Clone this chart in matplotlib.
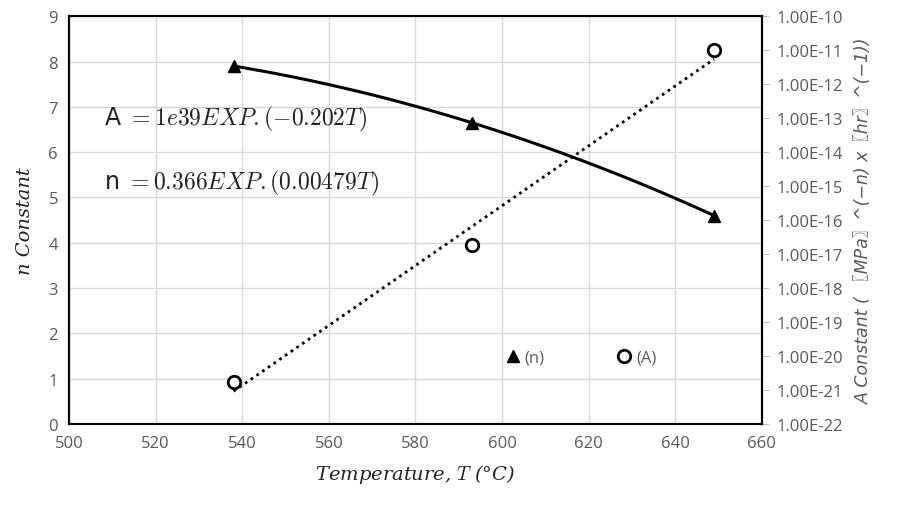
import numpy as np
import matplotlib.pyplot as plt
import matplotlib.ticker as mticker

# data
temp = [538, 593, 649]
n_const = [7.9, 6.65, 4.6]
a_const = [1.7e-21, 1.9e-17, 1.0e-11]

x_ticks = [500, 520, 540, 560, 580, 600, 620, 640, 660]
n_ticks = list(range(0, 10))
a_exps = list(range(-22, -9))

plt.rcParams['mathtext.fontset'] = 'cm'
grey = '#595959'
tick_font = 'Open Sans'

fig = plt.figure(figsize=(9.09, 5.06), dpi=100)
ax = fig.add_axes([0.076, 0.160, 0.762, 0.806])
ax2 = ax.twinx()

# n trend (smooth fit through the points)
tt = np.linspace(temp[0], temp[-1], 100)
pn = np.polyfit(temp, n_const, 2)
ax.plot(tt, np.polyval(pn, tt), color='black', lw=2.2, zorder=3)
ax.plot(temp, n_const, ls='none', marker='^', ms=8, color='black', zorder=4)

# A trend (exponential fit -> straight on log axis)
pa = np.polyfit(temp, np.log10(a_const), 1)
ax2.plot(tt, 10 ** np.polyval(pa, tt), color='black', lw=2, ls=(0, (1, 1.5)), zorder=3)
ax2.plot(temp, a_const, ls='none', marker='o', ms=9, mfc='white', mec='black', mew=2, zorder=4)

ax.set_xlim(500, 660)
ax.set_ylim(0, 9)
ax.set_xticks(x_ticks)
ax.set_yticks(n_ticks)
ax.grid(True, color='#d9d9d9', lw=1)
ax.set_axisbelow(True)
ax.tick_params(length=0, colors=grey, labelsize=12, pad=8)
for lab in ax.get_xticklabels() + ax.get_yticklabels():
    lab.set_fontfamily(tick_font)

ax2.set_yscale('log')
ax2.set_ylim(1e-22, 1e-10)
ax2.yaxis.set_major_locator(mticker.FixedLocator([10.0 ** e for e in a_exps]))
ax2.yaxis.set_minor_locator(mticker.NullLocator())
ax2.set_yticklabels(['1.00E-%d' % (-e) for e in a_exps])
ax2.tick_params(axis='y', length=5, color='#bfbfbf', colors=grey, labelsize=12, pad=6)
for lab in ax2.get_yticklabels():
    lab.set_fontfamily(tick_font)

for a in (ax, ax2):
    for s in a.spines.values():
        s.set_color('black')
        s.set_linewidth(1.5)

ax.set_xlabel('Temperature, $T$ (°C)', family='DejaVu Serif', style='italic',
              fontsize=14, color='#222222', labelpad=8)
ax.set_ylabel('n Constant', family='DejaVu Serif', style='italic',
              fontsize=14, color='#222222', labelpad=10)
ax2.set_ylabel('A Constant ( 〖MPa〗^(−n) x〖hr〗^(−1))',
               family=['DejaVu Sans', 'Noto Sans CJK SC'], style='italic',
               fontsize=12.5, color=grey, labelpad=8)

ax.text(508, 6.75, r'A $= 1e39EXP.(-0.202T)$', fontsize=17, color='#222222', va='center')
ax.text(508, 5.33, r'n $= 0.366EXP.(0.00479T)$', fontsize=17, color='#222222', va='center')

# legend
ax.legend(handles=[
    plt.Line2D([], [], ls='none', marker='^', ms=8, color='black', label='(n)'),
    plt.Line2D([], [], ls='none', marker='o', ms=9, mfc='white', mec='black', mew=2, label='(A)')],
    loc='center', bbox_to_anchor=(0.738, 0.163), ncol=2, frameon=False,
    handletextpad=0.2, columnspacing=4.3, prop={'family': tick_font, 'size': 12},
    labelcolor=grey, handlelength=1)

fig.savefig('out.png', dpi=100)
